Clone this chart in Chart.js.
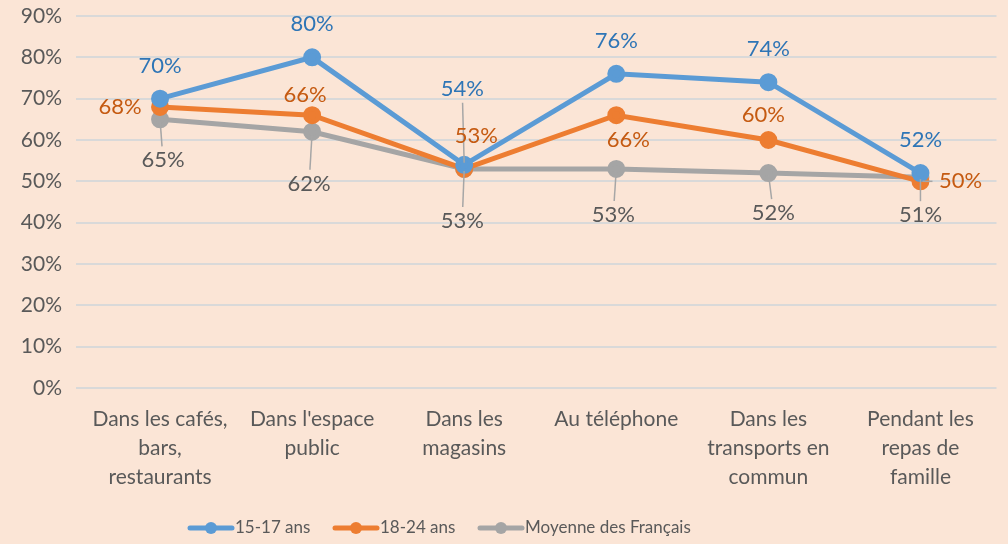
<!DOCTYPE html>
<html>
<head>
<meta charset="utf-8">
<script src="https://cdn.jsdelivr.net/npm/chart.js@4"></script>
<style>
  html, body { margin: 0; padding: 0; background: #FBE5D6; }
  #wrap { width: 1008px; height: 544px; }
</style>
</head>
<body>
<div id="wrap"><canvas id="chart" width="1008" height="544"></canvas></div>
<script>
const categories = [
  ['Dans les cafés,', 'bars,', 'restaurants'],
  ["Dans l'espace", 'public'],
  ['Dans les', 'magasins'],
  ['Au téléphone'],
  ['Dans les', 'transports en', 'commun'],
  ['Pendant les', 'repas de', 'famille']
];
const teens = [70, 80, 54, 76, 74, 52];
const young = [68, 66, 53, 66, 60, 50];
const average = [65, 62, 53, 53, 52, 51];
const seriesNames = ['15-17 ans', '18-24 ans', 'Moyenne des Français'];
const yTicks = [0, 10, 20, 30, 40, 50, 60, 70, 80, 90];

// where each data label sits, relative to its point (px), and whether it gets a leader line
const labelOffsets = [
  [[0, -33, 0], [0, -33, 0], [-2, -76, 1], [0, -33, 0], [0, -33, 0], [0, -33, 0]],
  [[-40, 0, 0], [-7, -20, 0], [12, -33, 0], [12, 25, 0], [-5, -25, 0], [40, 0, 1]],
  [[3, 41, 1], [-3, 52, 1], [-2, 52, 1], [-3, 46, 1], [5, 40, 1], [0, 38, 1]]
];
const lineColors = ['#5B9BD5', '#ED7D31', '#A5A5A5'];
const labelColors = ['#2E75B6', '#C55A11', '#595959'];
const FONT = 'Lato, "Open Sans", sans-serif';

const dataLabels = {
  id: 'dataLabels',
  afterDatasetsDraw(chart) {
    const ctx = chart.ctx;
    ctx.save();
    ctx.font = '22px ' + FONT;
    ctx.textAlign = 'center';
    ctx.textBaseline = 'middle';
    chart.data.datasets.forEach((ds, di) => {
      const meta = chart.getDatasetMeta(di);
      meta.data.forEach((pt, i) => {
        const [dx, dy, leader] = labelOffsets[di][i];
        const lx = pt.x + dx, ly = pt.y + dy;
        if (leader) {
          const len = Math.hypot(dx, dy);
          const ux = dx / len, uy = dy / len;
          const gapLabel = Math.abs(uy) > Math.abs(ux) ? 14 : 28;
          ctx.strokeStyle = '#A6A6A6';
          ctx.lineWidth = 1.5;
          ctx.beginPath();
          ctx.moveTo(pt.x + ux * 2, pt.y + uy * 2);
          ctx.lineTo(lx - ux * gapLabel, ly - uy * gapLabel);
          ctx.stroke();
        }
        ctx.fillStyle = labelColors[di];
        ctx.fillText(ds.data[i] + '%', lx, ly);
      });
    });
    ctx.restore();
  }
};

const legendDraw = {
  id: 'legendDraw',
  afterDraw(chart) {
    const ctx = chart.ctx;
    const starts = [190, 335, 480];
    const y = 528;
    ctx.save();
    ctx.font = '17px ' + FONT;
    ctx.textBaseline = 'middle';
    ctx.textAlign = 'left';
    chart.data.datasets.forEach((ds, di) => {
      const x = starts[di];
      ctx.strokeStyle = lineColors[di];
      ctx.lineWidth = 5;
      ctx.lineCap = 'round';
      ctx.beginPath();
      ctx.moveTo(x, y);
      ctx.lineTo(x + 42, y);
      ctx.stroke();
      ctx.fillStyle = lineColors[di];
      ctx.beginPath();
      ctx.arc(x + 21, y, 6, 0, Math.PI * 2);
      ctx.fill();
      ctx.fillStyle = '#595959';
      ctx.fillText(ds.label, x + 45, y);
    });
    ctx.restore();
  }
};

new Chart(document.getElementById('chart'), {
  type: 'line',
  data: {
    labels: categories,
    datasets: [teens, young, average].map((vals, i) => ({
      label: seriesNames[i],
      data: vals,
      borderColor: lineColors[i],
      backgroundColor: lineColors[i],
      borderWidth: 5,
      pointRadius: 6.5,
      pointHoverRadius: 6.5,
      tension: 0,
      order: i
    }))
  },
  options: {
    responsive: false,
    animation: false,
    events: [],
    layout: { padding: { top: 16, right: 8, left: 0, bottom: 0 } },
    plugins: { legend: { display: false }, tooltip: { enabled: false } },
    scales: {
      x: {
        offset: true,
        grid: { display: false },
        border: { display: false },
        ticks: { color: '#595959', font: { family: FONT, size: 21, lineHeight: 1.38 }, maxRotation: 0, padding: 9 },
        afterFit(scale) { scale.height = 156; }
      },
      y: {
        min: 0,
        max: 90,
        afterBuildTicks(scale) { scale.ticks = yTicks.map(v => ({ value: v })); },
        grid: { color: '#D9D9D9', lineWidth: 2 },
        border: { display: false },
        ticks: { color: '#595959', font: { family: FONT, size: 21 }, padding: 14, callback: v => v + '%' },
        afterFit(scale) { scale.width = 84; scale.paddingTop = 0; scale.paddingBottom = 0; }
      }
    }
  },
  plugins: [dataLabels, legendDraw]
});
</script>
</body>
</html>
